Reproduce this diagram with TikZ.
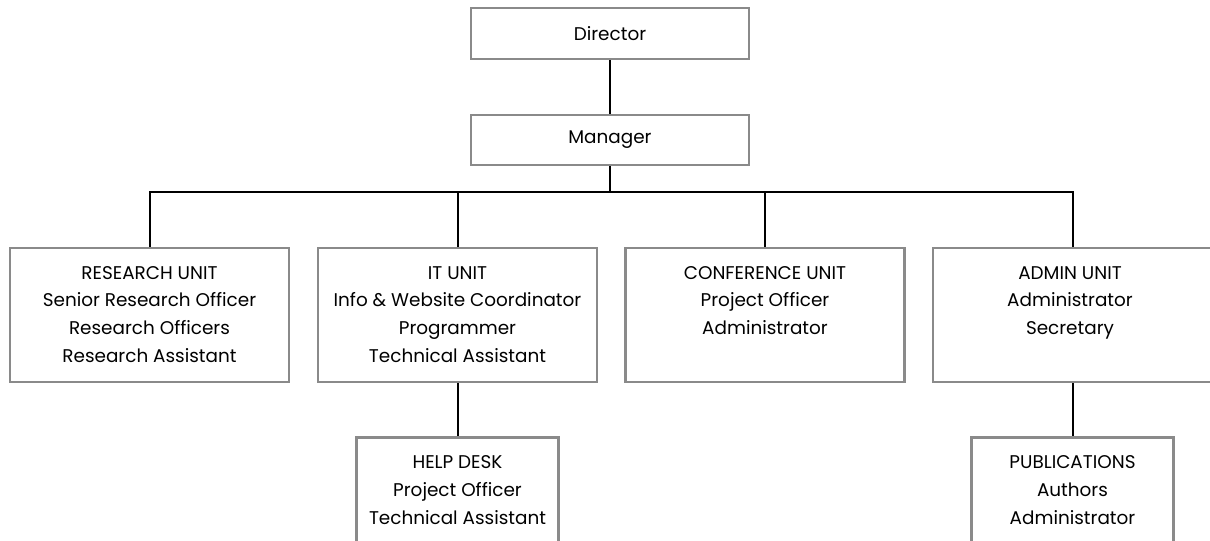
\documentclass[tikz,border=0pt]{standalone}
\usepackage{fontspec}
\setmainfont{Poppins}
\definecolor{boxgray}{HTML}{8A8A8A}
\tikzset{
  box/.style={draw=boxgray, line width=1.6pt, fill=white, inner sep=0pt, font=\fontsize{13.8}{20.8}\selectfont},
  unitbox/.style={box, minimum width=209.25pt, minimum height=100.5pt},
  subbox/.style={box, minimum width=151.5pt, minimum height=90pt},
  txt/.style={align=center, inner sep=0pt, anchor=north, font=\fontsize{13.8}{20.8}\selectfont},
  conn/.style={draw=black, line width=1.5pt}
}
\begin{document}
\begin{tikzpicture}[x=0.75pt,y=-0.75pt]
\useasboundingbox (0,0) rectangle (1210,540);
% top boxes
\node[box, minimum width=208.5pt, minimum height=38.25pt] (dir) at (610,33.5) {Director};
\node[box, minimum width=208.5pt, minimum height=37.5pt] (mgr) at (610,140) {Manager};
% unit boxes
\node[unitbox] (res) at (149.5,315) {};
\node[unitbox] (it) at (457.5,315) {};
\node[unitbox] (conf) at (765,315) {};
\node[unitbox] (adm) at (1072.5,315) {};
% lower boxes
\node[subbox] (help) at (457.5,497.5) {};
\node[subbox] (pub) at (1072.5,497.5) {};
% texts
\node[txt] (rest) at (149.5,266) {RESEARCH UNIT\\Senior Research Officer\\Research Officers\\Research Assistant};
\node[txt] (itt) at (457.5,266) {IT UNIT\\Info \& Website Coordinator\\Programmer\\Technical Assistant};
\node[txt] (conft) at (765,266) {CONFERENCE UNIT\\Project Officer\\Administrator};
\node[txt] (admt) at (1070,266) {ADMIN UNIT\\Administrator\\Secretary};
\node[txt] (helpt) at (457.5,455.5) {HELP DESK\\Project Officer\\Technical Assistant};
\node[txt] (pubt) at (1072.5,455.5) {PUBLICATIONS\\Authors\\Administrator};
% connectors
\coordinate (bus) at (610,192);
\draw[conn] (dir.south) -- (mgr.north);
\draw[conn] (mgr.south) -- (bus);
\draw[conn] (res.north) |- (bus) -| (adm.north);
\draw[conn] (it.north) -- (it.north |- bus);
\draw[conn] (conf.north) -- (conf.north |- bus);
\draw[conn] (it.south) -- (help.north);
\draw[conn] (adm.south) -- (pub.north);
\end{tikzpicture}
\end{document}
